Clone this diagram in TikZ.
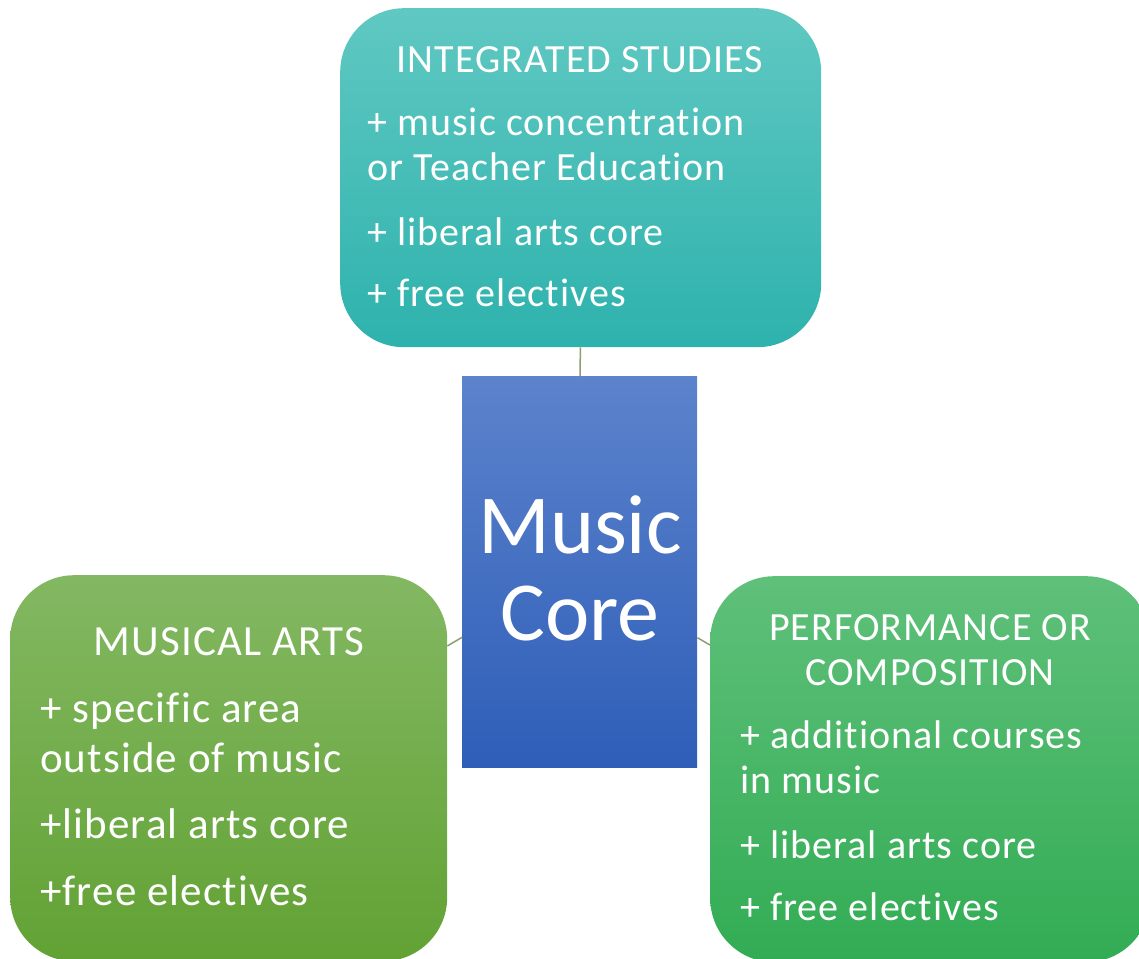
\documentclass[tikz,border=0pt]{standalone}
\usepackage{fontspec}
\setmainfont{Carlito}[Ligatures={NoCommon}]
\newfontfamily\boxfont{Carlito}[Ligatures={NoCommon},LetterSpace=2.6]
\begin{document}
\begin{tikzpicture}[x=1pt,y=-1pt,
  box/.style={rounded corners=64pt, draw=none, anchor=north west, inner sep=0pt},
  txt/.style={anchor=base west, inner sep=0pt, text=white, font=\boxfont\fontsize{40}{44}\selectfont},
  head/.style={anchor=base, inner sep=0pt, text=white, font=\boxfont\fontsize{40}{44}\selectfont},
  bigtxt/.style={txt, font=\boxfont\fontsize{43}{47}\selectfont},
  bighead/.style={head, font=\boxfont\fontsize{43}{47}\selectfont},
  link/.style={draw=linkc, line width=1.5pt}]
\definecolor{linkc}{HTML}{8AA070}
\useasboundingbox (0,0) rectangle (1139,958);
\node[box, top color={rgb,255:red,96;green,200;blue,194}, bottom color={rgb,255:red,46;green,178;blue,173}, minimum width=481pt, minimum height=339pt] (top) at (340,8) {};
\node[box, top color={rgb,255:red,131;green,184;blue,98}, bottom color={rgb,255:red,98;green,162;blue,52}, minimum width=437pt, minimum height=386pt] (left) at (10,575) {};
\node[box, top color={rgb,255:red,95;green,192;blue,122}, bottom color={rgb,255:red,50;green,172;blue,84}, minimum width=440pt, minimum height=386pt] (right) at (710,576) {};
\node[draw=none, anchor=north west, inner sep=0pt, top color={rgb,255:red,92;green,131;blue,204}, bottom color={rgb,255:red,46;green,94;blue,184}, minimum width=235pt, minimum height=391pt] (core) at (462,376) {};
\draw[link] (top) -- (core);
\draw[link] (left) -- (core);
\draw[link] (right) -- (core);
% center text
\node[anchor=base, inner sep=0pt, text=white, font=\fontsize{84}{87}\selectfont] (c1) at (580,553) {Music};
\node[anchor=base, inner sep=0pt, text=white, font=\fontsize{84}{87}\selectfont] (c2) at (580,640) {Core};
% top box
\node[head] (t0) at (580,72) {INTEGRATED STUDIES};
\node[txt] (t1) at (367,135) {+ music concentration};
\node[txt] (t2) at (367,180) {or Teacher Education};
\node[txt] (t3) at (367,245) {+ liberal arts core};
\node[txt] (t4) at (367,306) {+ free electives};
% left box
\node[bighead] (l0) at (229,655) {MUSICAL ARTS};
\node[bigtxt] (l1) at (40,722) {+ specific area};
\node[bigtxt] (l2) at (40,772) {outside of music};
\node[bigtxt] (l3) at (40,838) {+liberal arts core};
\node[bigtxt] (l4) at (40,905) {+free electives};
% right box
\node[head] (r0) at (930,640) {PERFORMANCE OR};
\node[head] (r1) at (930,685) {COMPOSITION};
\node[txt] (r2) at (740,748) {+ additional courses};
\node[txt] (r3) at (740,793) {in music};
\node[txt] (r4) at (740,858) {+ liberal arts core};
\node[txt] (r5) at (740,920) {+ free electives};
\end{tikzpicture}
\end{document}
